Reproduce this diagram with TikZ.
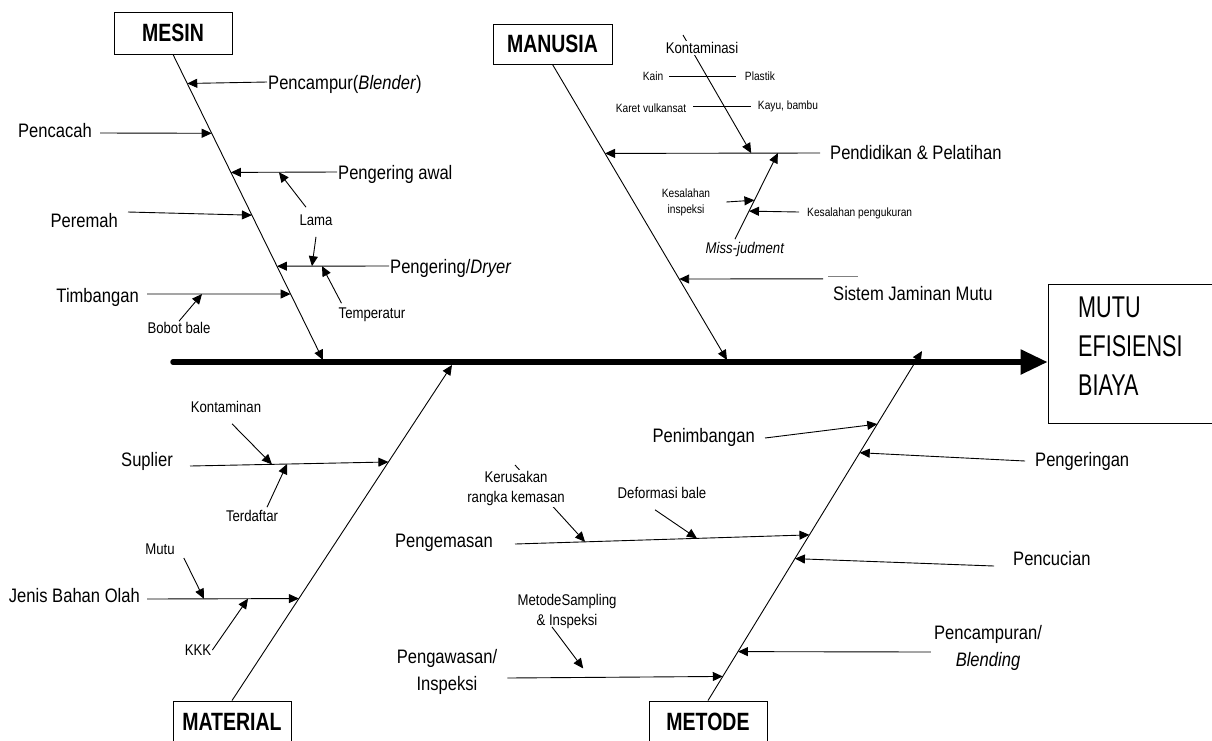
\documentclass[tikz,border=0pt]{standalone}
\usepackage{fontspec}
\setmainfont{Liberation Sans}[FakeStretch=0.85]
\newfontfamily\catfont{Liberation Sans}[FakeStretch=0.78]
\newfontfamily\effectfont{Liberation Sans}[FakeStretch=0.72]
\usepackage{tikz}
\usetikzlibrary{arrows.meta, calc}

\tikzset{
  lblbig/.style={font=\fontsize{19.5}{27}\selectfont, inner sep=1pt, text height=14pt, text depth=0pt},
  lblbigtwo/.style={font=\fontsize{19.5}{27}\selectfont, inner sep=1pt, align=center},
  lblsmall/.style={font=\fontsize{15.5}{20}\selectfont, inner sep=1pt, text height=11.2pt, text depth=0pt},
  lblsmalltwo/.style={font=\fontsize{15.5}{20}\selectfont, inner sep=1pt, align=center},
  lbltiny/.style={font=\fontsize{12}{16}\selectfont, inner sep=1pt, text height=8.6pt, text depth=0pt},
  lbltinytwo/.style={font=\fontsize{12}{16}\selectfont, inner sep=1pt, align=center},
  catbox/.style={draw, line width=0.9pt, inner sep=0pt, minimum width=118pt, minimum height=42pt,
    font=\catfont\bfseries\fontsize{25}{30}\selectfont},
  effect/.style={draw, line width=0.9pt, minimum width=168pt, minimum height=139pt},
  arr/.style={line width=0.9pt, -{Triangle[length=10pt,width=9pt]}},
  tie/.style={line width=0.9pt},
  spine/.style={line width=5.5pt, line cap=round, -{Triangle[length=27pt,width=24pt]}},
}

\begin{document}
\begin{tikzpicture}[x=1pt, y=-1pt]
  \useasboundingbox (0,0) rectangle (1212,740);

  % effect and categories
  \node[effect] (effect) at (1132,353.5) {};
  \node[anchor=west, inner sep=0pt, align=left, font=\effectfont\fontsize{30}{39}\selectfont]
    (effectTxt) at (1078,346) {MUTU\\EFISIENSI\\BIAYA};
  \node[catbox] (mesin) at (173,33) {MESIN};
  \node[catbox, minimum width=119pt, minimum height=40pt] (manusia) at (552.5,44) {MANUSIA};
  \node[catbox] (material) at (232,722) {MATERIAL};
  \node[catbox] (metode) at (708,722) {METODE};

  % spine
  \coordinate (spL) at (173,362);
  \draw[spine] (spL) -- (spL -| effect.west);
  \coordinate (mesTip) at (323,360);
  \coordinate (manTip) at (727,360);
  \coordinate (matTip) at (452,365);
  \coordinate (metTip) at (922,351);

  % MESIN
  \node[lblbig, anchor=west] (pblend) at (267,82) {Pencampur(\textit{Blender})};
  \node[lblbig, anchor=east] (pcacah) at (93,130) {Pencacah};
  \node[lblbig, anchor=west] (pawal) at (337,172) {Pengering awal};
  \node[lblsmall] (lama) at (316,220) {Lama};
  \node[lblbig, anchor=east] (peremah) at (119,220) {Peremah};
  \node[lblbig, anchor=west] (dryer) at (389,266) {Pengering/\textit{Dryer}};
  \node[lblsmall] (temp) at (372,313) {Temperatur};
  \node[lblbig, anchor=east] (timb) at (140,295) {Timbangan};
  \node[lblsmall] (bobot) at (179,328) {Bobot bale};

  \draw[arr] (mesin.south) -- coordinate[pos=.095] (m1) coordinate[pos=.258] (m2)
    coordinate[pos=.386] (m3) coordinate[pos=.526] (m4) coordinate[pos=.693] (m5)
    coordinate[pos=.784] (m6) (mesTip);
  \draw[arr] (pblend.west) -- (m1);
  \draw[arr] ([shift={(7,3)}]pcacah.east) -- (m2);
  \draw[arr] (pawal.west) -- coordinate[pos=.547] (aw1) (m3);
  \draw[arr] ([shift={(9,-8)}]peremah.east) -- (m4);
  \draw[arr] (dryer.west) -- coordinate[pos=.598] (dr2) coordinate[pos=.6875] (dr1) (m5);
  \draw[arr] ([shift={(7,-1)}]timb.east) -- coordinate[pos=.383] (tb1) (m6);
  \draw[arr] ([shift={(-10,-6)}]lama.north) -- (aw1);
  \draw[arr] ([shift={(0,10)}]lama.south) -- (dr1);
  \draw[arr] ([shift={(4,-3)}]temp.north west) -- (dr2);
  \draw[arr] (bobot.north) -- (tb1);

  % MANUSIA
  \node[lblbig, anchor=west] (pend) at (829,152) {Pendidikan \& Pelatihan};
  \node[lbltiny] (kain) at (653,76) {Kain};
  \node[lbltiny] (plastik) at (760,76) {Plastik};
  \node[lbltiny] (karet) at (651,108) {Karet vulkansat};
  \node[lbltiny] (kayu) at (788,105) {Kayu, bambu};
  \node[lbltinytwo] (kesins) at (686,202) {Kesalahan\\inspeksi};
  \node[lbltiny, anchor=west] (kespeng) at (806,212) {Kesalahan pengukuran};
  \node[lblsmall] (miss) at (745,248) {\textit{Miss-judment}};
  \node[lblbig, anchor=west] (sistem) at (832,293) {Sistem Jaminan Mutu};

  \draw[arr] (manusia.south) -- coordinate[pos=.301] (n1) coordinate[pos=.726] (n2) (manTip);
  \draw[arr] ([shift={(-9,1)}]pend.west) -- coordinate[pos=.196] (pd1) coordinate[pos=.32] (pd2) (n1);
  \draw[arr] ([shift={(-9,-6)}]sistem.north west) -- (n2);
  \draw[tie, gray] ([shift={(-4,-8)}]sistem.north west) -- ++(30,0);
  \draw[tie] ([xshift=5pt]kain.east) -- ([xshift=-8pt]plastik.west);
  \draw[tie] ([shift={(6,-2)}]karet.east) -- ++(58,0);
  \draw[arr] ([shift={(-10,-2)}]miss.north) -- coordinate[pos=.326] (mj2) coordinate[pos=.453] (mj1) (pd1);
  \draw[arr] ([xshift=15pt]kesins.east) -- (mj1);
  \draw[arr] ([xshift=-7pt]kespeng.west) -- (mj2);
  \coordinate (konTop) at (683,35);
  \draw[arr] (konTop) -- (pd2);
  \node[lblsmall, fill=white] (kontam) at (702,48) {Kontaminasi};

  % MATERIAL
  \node[lblsmall] (kontn) at (226,407) {Kontaminan};
  \node[lblbig, anchor=east] (supl) at (174,459) {Suplier};
  \node[lblsmall] (terd) at (252,516) {Terdaftar};
  \node[lblsmall] (mutuq) at (160,549) {Mutu};
  \node[lblbig, anchor=east] (jenis) at (141,595) {Jenis Bahan Olah};
  \node[lblsmall] (kkk) at (198,650) {KKK};

  \draw[arr] (material.north) -- coordinate[pos=.304] (a2) coordinate[pos=.711] (a1) (matTip);
  \draw[arr] ([shift={(16,7)}]supl.east) -- coordinate[pos=.413] (sp1) coordinate[pos=.489] (sp2) (a1);
  \draw[arr] ([shift={(6,4)}]jenis.east) -- coordinate[pos=.375] (jb1) coordinate[pos=.665] (jb2) (a2);
  \draw[arr] ([shift={(6,10)}]kontn.south) -- (sp1);
  \draw[arr] ([shift={(15,-2)}]terd.north) -- (sp2);
  \draw[arr] ([shift={(8,9)}]mutuq.east) -- (jb1);
  \draw[arr] (kkk.east) -- (jb2);

  % METODE
  \node[lblbig, anchor=east] (pnimb) at (756,435) {Penimbangan};
  \node[lblbig, anchor=west] (pkering) at (1034,459) {Pengeringan};
  \node[lblsmall] (deform) at (662,493) {Deformasi bale};
  \node[lblbig, anchor=east] (pkemas) at (494,540) {Pengemasan};
  \node[lblbig, anchor=west] (pcuci) at (1012,558) {Pencucian};
  \node[lblsmalltwo] (samp) at (567,611.5) {MetodeSampling\\\& Inspeksi};
  \node[lblbigtwo] (pcampur) at (988,648) {Pencampuran/\\\textit{Blending}};
  \node[lblbigtwo] (pawas) at (447,672) {Pengawasan/\\Inspeksi};

  \draw[arr] (metode.north) -- coordinate[pos=.069] (t6) coordinate[pos=.14] (t5)
    coordinate[pos=.406] (t4) coordinate[pos=.474] (t3) coordinate[pos=.709] (t2)
    coordinate[pos=.791] (t1) (metTip);
  \draw[arr] ([shift={(9,3)}]pnimb.east) -- (t1);
  \draw[arr] ([shift={(-9,2)}]pkering.west) -- (t2);
  \draw[arr] ([shift={(21,4)}]pkemas.east) -- coordinate[pos=.238] (km1) coordinate[pos=.618] (km2) (t3);
  \draw[arr] ([shift={(-18,8)}]pcuci.west) -- (t4);
  \draw[arr] ([shift={(-2,4)}]pcampur.west) -- (t5);
  \draw[arr] ([shift={(9,6)}]pawas.east) -- coordinate[pos=.352] (pw1) (t6);
  \draw[arr] ([shift={(-7,10)}]deform.south) -- (km2);
  \draw[arr] ([shift={(-15,-3)}]samp.south) -- ([shift={(0,-9)}]pw1);
  \coordinate (kerTop) at (515,465);
  \draw[arr] (kerTop) -- (km1);
  \node[lblsmalltwo, fill=white] (kerus) at (516,488.5) {Kerusakan\\rangka kemasan};
\end{tikzpicture}
\end{document}
